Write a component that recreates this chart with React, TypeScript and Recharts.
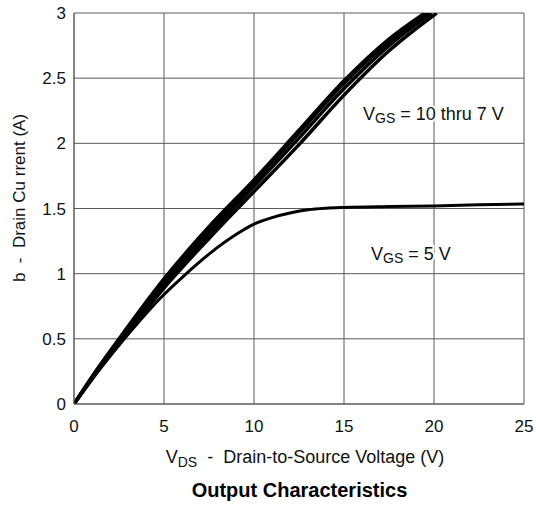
import React from "react";
import { LineChart, Line, XAxis, YAxis, CartesianGrid } from "recharts";

// V_DS values (V) and I_D values (A)
const vgs10V = [0, 1, 2.5, 5, 7.5, 10, 12.5, 15, 17.5, 19.5];
const vgs10I = [0, 0.21, 0.5, 0.96, 1.36, 1.72, 2.1, 2.48, 2.8, 3.0];

const vgs9V = [0, 1, 2.5, 5, 7.5, 10, 12.5, 15, 17.5, 19.65];
const vgs9I = [0, 0.205, 0.49, 0.94, 1.33, 1.7, 2.08, 2.46, 2.78, 3.0];

const vgs8V = [0, 1, 2.5, 5, 7.5, 10, 12.5, 15, 17.5, 19.85];
const vgs8I = [0, 0.2, 0.48, 0.92, 1.3, 1.67, 2.04, 2.42, 2.75, 3.0];

const vgs7V = [0, 1, 2.5, 5, 7.5, 10, 12.5, 15, 17.5, 20.15];
const vgs7I = [0, 0.19, 0.46, 0.89, 1.27, 1.63, 1.99, 2.37, 2.71, 3.0];

const vgs5V = [0, 1, 2.5, 5, 6, 7.5, 9, 10, 11, 12, 13, 14, 15, 17.5, 20, 22.5, 25];
const vgs5I = [0, 0.19, 0.45, 0.84, 0.97, 1.15, 1.3, 1.38, 1.43, 1.465, 1.49, 1.502, 1.508, 1.515, 1.52, 1.528, 1.535];

const xTicks = [0, 5, 10, 15, 20, 25];
const yTicks = [0, 0.5, 1, 1.5, 2, 2.5, 3];

const toPoints = (vs: number[], is: number[]) => vs.map((v, k) => ({ v, i: is[k] }));

const font = "'Liberation Sans', Arial, sans-serif";
const grid = "#5a5a5a";

export default function App() {
  const curves = [
    toPoints(vgs10V, vgs10I),
    toPoints(vgs9V, vgs9I),
    toPoints(vgs8V, vgs8I),
    toPoints(vgs7V, vgs7I),
  ];

  return (
    <div style={{ position: "fixed", left: 0, top: 0, width: 536, height: 506, background: "#fff" }}>
      <LineChart
        width={536}
        height={506}
        margin={{ top: 13, right: 12, bottom: 72, left: 0 }}
        style={{ fontFamily: font }}
      >
        <CartesianGrid stroke={grid} strokeWidth={1} />
        <XAxis
          type="number"
          dataKey="v"
          domain={[0, 25]}
          ticks={xTicks}
          allowDataOverflow
          height={30}
          tickLine={false}
          tickSize={6}
          tickMargin={10}
          axisLine={{ stroke: grid }}
          tick={{ fill: "#111", fontSize: 17 }}
        />
        <YAxis
          type="number"
          dataKey="i"
          domain={[0, 3]}
          ticks={yTicks}
          allowDataOverflow
          width={74}
          tickLine={false}
          tickSize={6}
          tickMargin={2}
          axisLine={{ stroke: grid }}
          tick={{ fill: "#111", fontSize: 17 }}
        />
        {curves.map((d, k) => (
          <Line
            key={k}
            data={d}
            dataKey="i"
            type="monotone"
            stroke="#000"
            strokeWidth={3.5}
            dot={false}
            isAnimationActive={false}
          />
        ))}
        <Line
          data={toPoints(vgs5V, vgs5I)}
          dataKey="i"
          type="monotone"
          stroke="#000"
          strokeWidth={3}
          dot={false}
          isAnimationActive={false}
        />
      </LineChart>
      <svg
        width={536}
        height={506}
        style={{ position: "absolute", left: 0, top: 0, fontFamily: font }}
      >
        <text
          x={25}
          y={198}
          transform="rotate(-90 25 198)"
          textAnchor="middle"
          fontSize={17}
          fill="#111"
          xmlSpace="preserve"
          style={{ whiteSpace: "pre" }}
        >
          {"b  -  Drain Cu rrent (A)"}
        </text>
        <text
          x={305}
          y={463}
          textAnchor="middle"
          fontSize={18}
          fill="#111"
          xmlSpace="preserve"
          style={{ whiteSpace: "pre" }}
        >
          V
          <tspan fontSize={14} dy={4}>DS</tspan>
          <tspan dy={-4}>{"  -  Drain-to-Source Voltage (V)"}</tspan>
        </text>
        <text x={299.5} y={497} textAnchor="middle" fontSize={20} fontWeight="bold" fill="#000">
          Output Characteristics
        </text>
        <text
          x={363}
          y={120}
          fontSize={18}
          fill="#111"
          stroke="#fff"
          strokeWidth={4}
          paintOrder="stroke"
        >
          V
          <tspan fontSize={14} dy={3}>GS</tspan>
          <tspan dy={-3}>{" = 10 thru 7 V"}</tspan>
        </text>
        <text
          x={371}
          y={260}
          fontSize={18}
          fill="#111"
          stroke="#fff"
          strokeWidth={4}
          paintOrder="stroke"
        >
          V
          <tspan fontSize={14} dy={3}>GS</tspan>
          <tspan dy={-3}>{" = 5 V"}</tspan>
        </text>
      </svg>
    </div>
  );
}
